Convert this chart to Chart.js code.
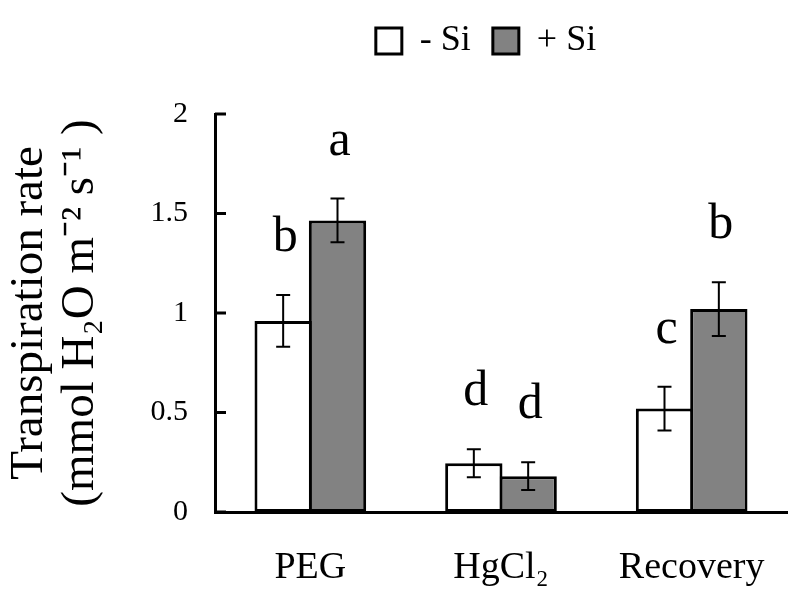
<!DOCTYPE html>
<html>
<head>
<meta charset="utf-8">
<script src="https://cdn.jsdelivr.net/npm/chart.js@4.4.1/dist/chart.umd.min.js"></script>
<style>
    html, body { margin: 0; padding: 0; background: #fff; }
    #wrap { width: 790px; height: 590px; }
</style>
</head>
<body>
<div id="wrap"><canvas id="chart"></canvas></div>
<script>
const categories = ['PEG', 'HgCl₂', 'Recovery'];
const minusSi = [0.96, 0.245, 0.52];
const plusSi = [1.465, 0.18, 1.02];
const minusSiErr = [0.13, 0.07, 0.11];
const plusSiErr = [0.11, 0.07, 0.135];
const minusSiLetters = ['b', 'd', 'c'];
const plusSiLetters = ['a', 'd', 'b'];
const yTicks = [0, 0.5, 1, 1.5, 2];

const serif = '"Liberation Serif", "Times New Roman", serif';

// make room under the legend, and nudge it a bit to the left
const legendSpace = {
    id: 'legendSpace',
    beforeInit(chart) {
        const origFit = chart.legend.fit;
        chart.legend.fit = function () {
            origFit.call(this);
            this.height += 45;
        };
    },
    afterLayout(chart) {
        chart.legend.left -= 15;
        chart.legend.right -= 15;
    }
};

// error bars + significance letters
const errorBars = {
    id: 'errorBars',
    afterDatasetsDraw(chart) {
        const ctx = chart.ctx;
        const y = chart.scales.y;
        chart.data.datasets.forEach((ds, i) => {
            const meta = chart.getDatasetMeta(i);
            meta.data.forEach((bar, j) => {
                const v = ds.data[j];
                const e = ds.errors[j];
                const top = y.getPixelForValue(v + e);
                const bot = y.getPixelForValue(v - e);
                ctx.save();
                ctx.strokeStyle = '#000';
                ctx.lineWidth = 2;
                ctx.beginPath();
                ctx.moveTo(bar.x, top); ctx.lineTo(bar.x, bot);
                ctx.moveTo(bar.x - 7, top); ctx.lineTo(bar.x + 7, top);
                ctx.moveTo(bar.x - 7, bot); ctx.lineTo(bar.x + 7, bot);
                ctx.stroke();
                ctx.font = '50px ' + serif;
                ctx.textAlign = 'center';
                ctx.textBaseline = 'alphabetic';
                ctx.fillStyle = '#000';
                ctx.fillText(ds.letters[j], bar.x + 2, top - 44);
                ctx.restore();
            });
        });
    }
};

// tick marks pointing into the plot
const inwardTicks = {
    id: 'inwardTicks',
    afterDraw(chart) {
        const ctx = chart.ctx;
        const y = chart.scales.y;
        const x0 = chart.chartArea.left;
        ctx.save();
        ctx.strokeStyle = '#000';
        ctx.lineWidth = 3;
        ctx.beginPath();
        y.ticks.forEach(t => {
            const py = y.getPixelForValue(t.value);
            ctx.moveTo(x0, py);
            ctx.lineTo(x0 + 11, py);
        });
        ctx.stroke();
        ctx.restore();
    }
};

const ctx = document.getElementById('chart').getContext('2d');
const chart = new Chart(ctx, {
    type: 'bar',
    data: {
        labels: categories,
        datasets: [{
            label: '- Si',
            data: minusSi,
            errors: minusSiErr,
            letters: minusSiLetters,
            backgroundColor: '#ffffff',
            borderColor: '#000000',
            borderWidth: 3,
            borderSkipped: false
        }, {
            label: '+ Si',
            data: plusSi,
            errors: plusSiErr,
            letters: plusSiLetters,
            backgroundColor: '#828282',
            borderColor: '#000000',
            borderWidth: 3,
            borderSkipped: false
        }]
    },
    options: {
        responsive: true,
        maintainAspectRatio: false,
        animation: false,
        categoryPercentage: 0.57,
        barPercentage: 1.055,
        layout: {
            padding: { top: 1, right: 3, bottom: 0, left: 2 }
        },
        plugins: {
            tooltip: { enabled: false },
            legend: {
                position: 'top',
                fullSize: false,
                labels: {
                    color: '#000',
                    boxWidth: 26,
                    boxHeight: 26,
                    padding: 22,
                    font: { family: serif, size: 36 }
                }
            }
        },
        scales: {
            x: {
                afterFit(scale) {
                    scale.height = 78;
                    scale.paddingLeft = 0;
                    scale.paddingRight = 0;
                },
                grid: { display: false, drawTicks: false },
                border: { display: true, color: '#000', width: 3 },
                ticks: {
                    color: '#000',
                    padding: 37,
                    font: { family: serif, size: 38, lineHeight: 1 }
                }
            },
            y: {
                min: 0,
                max: 2,
                afterBuildTicks: s => { s.ticks = yTicks.map(v => ({ value: v })); },
                afterFit(scale) { scale.width = 213; },
                grid: { display: false, drawTicks: false },
                border: { display: true, color: '#000', width: 3 },
                ticks: {
                    color: '#000',
                    padding: 27,
                    callback: v => String(v),
                    font: { family: serif, size: 30 }
                },
                title: {
                    display: true,
                    text: ['Transpiration rate', '(mmol H₂O m⁻² s⁻¹ )'],
                    color: '#000',
                    padding: { top: 3, bottom: 20 },
                    font: { family: serif, size: 47, lineHeight: 1.07 }
                }
            }
        }
    },
    plugins: [legendSpace, errorBars, inwardTicks]
});
</script>
</body>
</html>
